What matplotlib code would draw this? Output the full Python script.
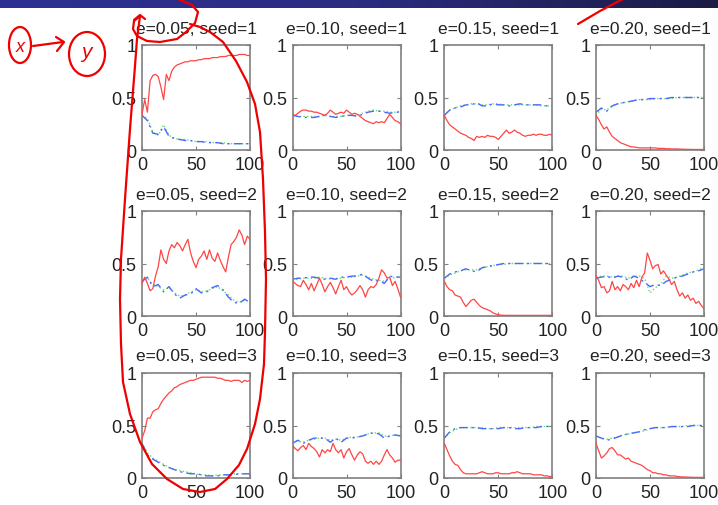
import numpy as np
import matplotlib
matplotlib.use('Agg')
import matplotlib.pyplot as plt
from matplotlib.colors import LinearSegmentedColormap
from matplotlib.lines import Line2D
from matplotlib.patches import Ellipse

# --- data: red (solid), blue (dash-dot), green (dotted) ---
# red sampled every 2.5 steps, blue/green every 5 steps over 0..100

red_005_1 = [0.34, 0.48, 0.36, 0.66, 0.71, 0.72, 0.70, 0.60, 0.48, 0.72, 0.66, 0.75, 0.79, 0.81,
             0.82, 0.83, 0.84, 0.84, 0.85, 0.85, 0.85, 0.86, 0.86, 0.87, 0.87, 0.87, 0.88, 0.88,
             0.88, 0.89, 0.89, 0.89, 0.90, 0.90, 0.90, 0.90, 0.91, 0.91, 0.91, 0.90, 0.90]
blue_005_1 = [0.33, 0.28, 0.16, 0.15, 0.22, 0.13, 0.11, 0.10, 0.09, 0.09, 0.08, 0.08, 0.07, 0.07,
              0.07, 0.06, 0.06, 0.06, 0.06, 0.06, 0.06]
green_005_1 = [0.33, 0.30, 0.17, 0.14, 0.24, 0.14, 0.11, 0.10, 0.10, 0.09, 0.08, 0.08, 0.08, 0.07,
               0.07, 0.07, 0.06, 0.06, 0.06, 0.06, 0.06]

red_010_1 = [0.34, 0.33, 0.35, 0.37, 0.38, 0.38, 0.37, 0.37, 0.36, 0.36, 0.35, 0.34, 0.33, 0.35,
             0.38, 0.36, 0.34, 0.35, 0.36, 0.35, 0.38, 0.36, 0.34, 0.35, 0.34, 0.32, 0.30, 0.28,
             0.27, 0.26, 0.25, 0.27, 0.26, 0.27, 0.26, 0.30, 0.34, 0.31, 0.28, 0.27, 0.25]
blue_010_1 = [0.33, 0.32, 0.31, 0.31, 0.31, 0.32, 0.33, 0.32, 0.31, 0.32, 0.33, 0.33, 0.32, 0.34,
              0.36, 0.37, 0.37, 0.36, 0.35, 0.36, 0.36]
green_010_1 = [0.33, 0.32, 0.32, 0.32, 0.32, 0.32, 0.33, 0.32, 0.32, 0.32, 0.33, 0.33, 0.33, 0.35,
               0.37, 0.38, 0.37, 0.37, 0.36, 0.36, 0.37]

red_015_1 = [0.33, 0.28, 0.24, 0.22, 0.20, 0.18, 0.16, 0.15, 0.14, 0.12, 0.11, 0.09, 0.13, 0.12,
             0.13, 0.12, 0.14, 0.13, 0.13, 0.12, 0.10, 0.13, 0.16, 0.19, 0.16, 0.17, 0.19, 0.17,
             0.16, 0.14, 0.13, 0.14, 0.14, 0.15, 0.14, 0.15, 0.15, 0.14, 0.14, 0.15, 0.14]
blue_015_1 = [0.33, 0.38, 0.40, 0.41, 0.43, 0.43, 0.45, 0.42, 0.42, 0.44, 0.43, 0.43, 0.42, 0.43,
              0.44, 0.43, 0.43, 0.43, 0.43, 0.42, 0.42]
green_015_1 = [0.33, 0.38, 0.40, 0.42, 0.43, 0.44, 0.44, 0.43, 0.43, 0.44, 0.44, 0.43, 0.43, 0.43,
               0.43, 0.43, 0.43, 0.43, 0.42, 0.42, 0.42]

red_020_1 = [0.33, 0.29, 0.24, 0.20, 0.22, 0.17, 0.13, 0.11, 0.09, 0.07, 0.06, 0.05, 0.04, 0.03,
             0.03, 0.025, 0.02, 0.02, 0.02, 0.02, 0.02, 0.02, 0.02, 0.015, 0.015, 0.015, 0.012,
             0.012, 0.01, 0.01, 0.01, 0.008, 0.008, 0.007, 0.006, 0.006, 0.005, 0.005, 0.005,
             0.005, 0.005]
blue_020_1 = [0.36, 0.40, 0.37, 0.42, 0.44, 0.45, 0.46, 0.47, 0.48, 0.48, 0.49, 0.49, 0.49, 0.49,
              0.50, 0.50, 0.50, 0.50, 0.50, 0.50, 0.50]
green_020_1 = [0.33, 0.39, 0.38, 0.42, 0.44, 0.45, 0.46, 0.47, 0.48, 0.48, 0.48, 0.49, 0.49, 0.49,
               0.49, 0.50, 0.50, 0.50, 0.50, 0.50, 0.50]

red_005_2 = [0.31, 0.37, 0.31, 0.24, 0.26, 0.38, 0.47, 0.63, 0.54, 0.50, 0.62, 0.68, 0.65, 0.70,
             0.67, 0.62, 0.68, 0.73, 0.60, 0.52, 0.46, 0.54, 0.57, 0.62, 0.54, 0.63, 0.55, 0.52,
             0.60, 0.53, 0.47, 0.42, 0.56, 0.68, 0.71, 0.75, 0.82, 0.77, 0.68, 0.76, 0.73]
blue_005_2 = [0.33, 0.37, 0.28, 0.30, 0.23, 0.28, 0.21, 0.17, 0.20, 0.21, 0.26, 0.22, 0.23, 0.27,
              0.29, 0.25, 0.18, 0.13, 0.12, 0.16, 0.13]
green_005_2 = [0.33, 0.36, 0.30, 0.28, 0.25, 0.27, 0.22, 0.19, 0.20, 0.23, 0.25, 0.23, 0.24, 0.26,
               0.28, 0.24, 0.20, 0.15, 0.13, 0.15, 0.14]

red_010_2 = [0.33, 0.31, 0.29, 0.28, 0.34, 0.30, 0.25, 0.31, 0.24, 0.30, 0.36, 0.30, 0.23, 0.28,
             0.32, 0.27, 0.21, 0.28, 0.34, 0.25, 0.28, 0.23, 0.20, 0.22, 0.25, 0.29, 0.25, 0.18,
             0.25, 0.28, 0.27, 0.30, 0.36, 0.44, 0.41, 0.36, 0.37, 0.29, 0.33, 0.26, 0.18]
blue_010_2 = [0.35, 0.36, 0.36, 0.37, 0.37, 0.36, 0.35, 0.36, 0.35, 0.37, 0.37, 0.38, 0.38, 0.40,
              0.36, 0.33, 0.34, 0.31, 0.38, 0.37, 0.37]
green_010_2 = [0.34, 0.35, 0.36, 0.36, 0.36, 0.37, 0.36, 0.35, 0.36, 0.36, 0.37, 0.37, 0.38, 0.39,
               0.37, 0.35, 0.34, 0.33, 0.35, 0.37, 0.38]

red_015_2 = [0.33, 0.28, 0.25, 0.24, 0.20, 0.19, 0.18, 0.13, 0.09, 0.12, 0.15, 0.16, 0.13, 0.10,
             0.08, 0.07, 0.06, 0.05, 0.03, 0.02, 0.012, 0.008, 0.007, 0.006, 0.006, 0.006, 0.006,
             0.006, 0.006, 0.006, 0.006, 0.006, 0.006, 0.006, 0.006, 0.006, 0.006, 0.006, 0.006,
             0.006, 0.006]
blue_015_2 = [0.36, 0.40, 0.42, 0.43, 0.45, 0.43, 0.42, 0.46, 0.47, 0.48, 0.49, 0.50, 0.50, 0.50,
              0.50, 0.50, 0.50, 0.50, 0.50, 0.50, 0.50]
green_015_2 = [0.36, 0.39, 0.41, 0.43, 0.44, 0.44, 0.44, 0.46, 0.47, 0.48, 0.49, 0.49, 0.50, 0.50,
               0.50, 0.50, 0.50, 0.50, 0.50, 0.50, 0.50]

red_020_2 = [0.38, 0.34, 0.27, 0.28, 0.22, 0.24, 0.33, 0.25, 0.28, 0.24, 0.30, 0.28, 0.25, 0.31,
             0.27, 0.34, 0.28, 0.37, 0.41, 0.60, 0.53, 0.45, 0.48, 0.49, 0.40, 0.43, 0.39, 0.35,
             0.30, 0.33, 0.25, 0.19, 0.22, 0.17, 0.20, 0.15, 0.17, 0.12, 0.14, 0.10, 0.07]
blue_020_2 = [0.36, 0.37, 0.38, 0.36, 0.38, 0.37, 0.34, 0.38, 0.36, 0.32, 0.28, 0.30, 0.29, 0.33,
              0.35, 0.37, 0.38, 0.40, 0.42, 0.43, 0.45]
green_020_2 = [0.37, 0.38, 0.38, 0.37, 0.38, 0.38, 0.36, 0.38, 0.38, 0.36, 0.22, 0.27, 0.30, 0.38,
               0.36, 0.37, 0.39, 0.41, 0.42, 0.44, 0.46]

red_005_3 = [0.38, 0.45, 0.57, 0.57, 0.63, 0.65, 0.66, 0.71, 0.75, 0.78, 0.81, 0.83, 0.86, 0.87,
             0.89, 0.90, 0.91, 0.92, 0.93, 0.93, 0.94, 0.95, 0.96, 0.96, 0.96, 0.96, 0.96, 0.96,
             0.95, 0.95, 0.94, 0.93, 0.93, 0.92, 0.93, 0.93, 0.93, 0.91, 0.93, 0.92, 0.93]
blue_005_3 = [0.33, 0.22, 0.18, 0.15, 0.12, 0.10, 0.08, 0.06, 0.05, 0.04, 0.04, 0.03, 0.02, 0.02,
              0.02, 0.03, 0.03, 0.03, 0.04, 0.04, 0.04]
green_005_3 = [0.33, 0.24, 0.19, 0.16, 0.13, 0.10, 0.08, 0.07, 0.06, 0.05, 0.04, 0.03, 0.03, 0.02,
               0.03, 0.03, 0.03, 0.04, 0.04, 0.04, 0.04]

red_010_3 = [0.31, 0.28, 0.26, 0.29, 0.31, 0.27, 0.33, 0.30, 0.28, 0.25, 0.20, 0.27, 0.24, 0.27,
             0.25, 0.33, 0.27, 0.24, 0.27, 0.19, 0.25, 0.28, 0.22, 0.17, 0.22, 0.25, 0.23, 0.16,
             0.14, 0.16, 0.13, 0.16, 0.13, 0.16, 0.22, 0.27, 0.22, 0.19, 0.15, 0.17, 0.17]
blue_010_3 = [0.33, 0.36, 0.33, 0.36, 0.38, 0.38, 0.38, 0.34, 0.38, 0.34, 0.38, 0.38, 0.39, 0.40,
              0.42, 0.43, 0.42, 0.38, 0.40, 0.41, 0.40]
green_010_3 = [0.34, 0.35, 0.34, 0.36, 0.37, 0.38, 0.38, 0.36, 0.37, 0.36, 0.38, 0.39, 0.39, 0.40,
               0.42, 0.43, 0.43, 0.40, 0.40, 0.41, 0.41]

red_015_3 = [0.33, 0.27, 0.21, 0.16, 0.13, 0.12, 0.08, 0.05, 0.04, 0.04, 0.04, 0.04, 0.04, 0.05,
             0.06, 0.05, 0.04, 0.04, 0.04, 0.05, 0.05, 0.04, 0.04, 0.04, 0.04, 0.05, 0.05, 0.06,
             0.05, 0.04, 0.04, 0.04, 0.04, 0.03, 0.03, 0.03, 0.03, 0.02, 0.02, 0.015, 0.01]
blue_015_3 = [0.38, 0.44, 0.47, 0.48, 0.48, 0.48, 0.48, 0.47, 0.47, 0.47, 0.47, 0.48, 0.48, 0.47,
              0.47, 0.48, 0.48, 0.48, 0.49, 0.49, 0.50]
green_015_3 = [0.38, 0.43, 0.46, 0.48, 0.48, 0.48, 0.48, 0.48, 0.47, 0.47, 0.48, 0.48, 0.48, 0.48,
               0.48, 0.48, 0.48, 0.49, 0.49, 0.49, 0.50]

red_020_3 = [0.33, 0.26, 0.19, 0.21, 0.24, 0.28, 0.29, 0.26, 0.22, 0.22, 0.20, 0.18, 0.19, 0.16,
             0.15, 0.14, 0.13, 0.12, 0.10, 0.08, 0.07, 0.05, 0.05, 0.04, 0.04, 0.03, 0.03, 0.02,
             0.02, 0.02, 0.015, 0.012, 0.01, 0.01, 0.008, 0.007, 0.006, 0.006, 0.006, 0.006, 0.006]
blue_020_3 = [0.40, 0.38, 0.36, 0.37, 0.39, 0.41, 0.42, 0.43, 0.44, 0.46, 0.47, 0.48, 0.48, 0.48,
              0.49, 0.49, 0.49, 0.49, 0.50, 0.50, 0.50]
green_020_3 = [0.40, 0.38, 0.37, 0.38, 0.39, 0.41, 0.42, 0.43, 0.44, 0.45, 0.47, 0.48, 0.48, 0.48,
               0.49, 0.49, 0.49, 0.50, 0.50, 0.50, 0.50]

e_values = [0.05, 0.10, 0.15, 0.20]
seeds = [1, 2, 3]
x_ticks = [0, 50, 100]
y_ticks = [0, 0.5, 1]

panels = [
    (red_005_1, blue_005_1, green_005_1), (red_010_1, blue_010_1, green_010_1),
    (red_015_1, blue_015_1, green_015_1), (red_020_1, blue_020_1, green_020_1),
    (red_005_2, blue_005_2, green_005_2), (red_010_2, blue_010_2, green_010_2),
    (red_015_2, blue_015_2, green_015_2), (red_020_2, blue_020_2, green_020_2),
    (red_005_3, blue_005_3, green_005_3), (red_010_3, blue_010_3, green_010_3),
    (red_015_3, blue_015_3, green_015_3), (red_020_3, blue_020_3, green_020_3),
]

# --- layout (pixels of the 718x506 slide crop) ---
W, H = 718, 506
col_left = [142, 292.5, 444.3, 596]
row_top = [46, 212, 374]
ax_w, ax_h = 108, 105

plt.rcParams['font.family'] = ['Liberation Sans', 'DejaVu Sans']
fig = plt.figure(figsize=(W / 100, H / 100), dpi=100)
fig.patch.set_facecolor('white')


def fx(x):
    return x / W


def fy(y):
    return 1 - y / H


for i, (red, blue, green) in enumerate(panels):
    r, c = divmod(i, 4)
    ax = fig.add_axes([fx(col_left[c]), fy(row_top[r] + ax_h), ax_w / W, ax_h / H])
    xr = np.linspace(0, 100, len(red))
    xm = np.linspace(0, 100, len(blue))
    ax.plot(xm, green, color='#66dd66', lw=1.0, ls=':')
    ax.plot(xm, blue, color='#4a68ff', lw=1.0, ls=(0, (6, 3, 1.5, 3)))
    ax.plot(xr, red, color='#ff4545', lw=0.9, zorder=3)
    ax.set_xlim(0, 100)
    ax.set_ylim(0, 1)
    ax.set_xticks(x_ticks)
    ax.set_yticks(y_ticks)
    ax.set_xticklabels([str(t) for t in x_ticks])
    ax.set_yticklabels(['0', '0.5', '1'])
    ax.tick_params(direction='in', length=3, top=True, right=True, color='#808080',
                   labelsize=13, labelcolor='#222222', pad=4)
    for sp in ax.spines.values():
        sp.set_color('#808080')
        sp.set_linewidth(1.2)
    ax.set_title(f'e={e_values[c]:.2f}, seed={seeds[r]}', fontsize=12.5,
                 color='#222222', pad=9)

# slide header bar
bar = fig.add_axes([0, fy(9), 1, 9 / H])
bar_cmap = LinearSegmentedColormap.from_list('bar', ['#2e3192', '#2b2c80', '#1b1b45'])
bar.imshow(np.linspace(0, 1, 256)[None, :], aspect='auto', cmap=bar_cmap)
bar.axis('off')

# handwritten red pen marks
pen = dict(color='#ee0000', lw=1.6, solid_capstyle='round')
strokes = [
    [(178, 0), (192, 6), (198, 13), (195, 24), (186, 33), (177, 40), (160, 43), (147, 42),
     (137, 37), (133, 30), (134, 22), (140, 17)],
    [(140, 17), (137, 40), (135, 67), (130, 130), (125, 200), (121, 260), (120, 300),
     (121, 345), (123, 383), (130, 415), (140, 443), (152, 465), (167, 480), (183, 490),
     (200, 493), (215, 490), (227, 480), (239, 466), (247, 450), (255, 425), (260, 400),
     (264, 365), (265, 333), (266, 280), (265, 233), (263, 180), (260, 133), (255, 105),
     (247, 83), (236, 62), (223, 43), (210, 33), (200, 28), (190, 25)],
    [(134, 21), (140, 16), (145, 20)],
    [(578, 25), (600, 12), (623, 0)],
    [(33, 47), (63, 43)],
    [(56, 38), (64, 43), (57, 52)],
]
for s in strokes:
    xs = [fx(p[0]) for p in s]
    ys = [fy(p[1]) for p in s]
    fig.add_artist(Line2D(xs, ys, transform=fig.transFigure, **pen))

for cx, cy, w, h in [(20, 46, 22, 36), (87, 55, 36, 44)]:
    fig.add_artist(Ellipse((fx(cx), fy(cy)), w / W, h / H, transform=fig.transFigure,
                           fill=False, edgecolor='#ee0000', lw=1.6))
fig.text(fx(20), fy(48), 'x', color='#ee0000', fontsize=13, style='italic',
         ha='center', va='center')
fig.text(fx(86), fy(52), 'y', color='#ee0000', fontsize=15, style='italic',
         ha='center', va='center')

fig.savefig('out.png', dpi=100)
